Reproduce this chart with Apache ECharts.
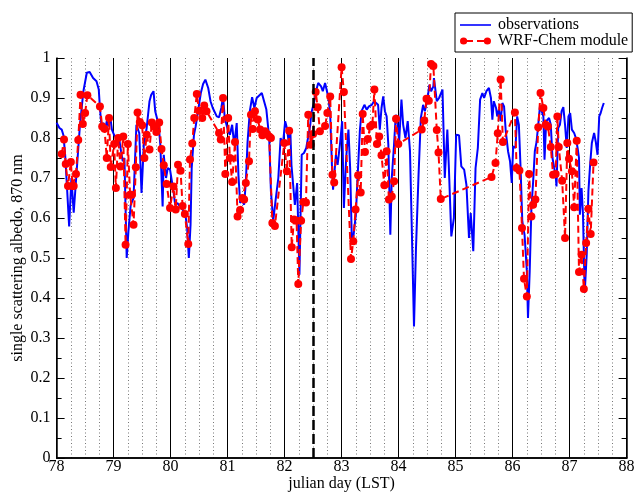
<!DOCTYPE html>
<html>
<head>
<meta charset="utf-8">
<script src="https://cdn.jsdelivr.net/npm/echarts@6/dist/echarts.min.js"></script>
<style>html,body{margin:0;padding:0;background:#fff;}#c{width:635px;height:493px;}</style>
</head>
<body>
<div id="c"></div>
<script>
// ---- data ----
const obsDay = [78.00,78.05,78.09,78.12,78.15,78.18,78.22,78.26,78.30,78.35,78.41,78.47,78.53,78.58,78.64,78.70,78.74,78.76,78.79,78.82,78.85,78.88,78.91,78.94,78.97,79.01,79.05,79.10,79.13,79.16,79.19,79.23,79.26,79.30,79.35,79.40,79.45,79.49,79.53,79.58,79.63,79.66,79.70,79.73,79.75,79.79,79.82,79.86,79.88,79.92,79.95,79.99,80.02,80.05,80.08,80.12,80.16,80.21,80.26,80.29,80.32,80.35,80.37,80.41,80.44,80.49,80.53,80.57,80.61,80.66,80.70,80.74,80.77,80.81,80.85,80.89,80.92,80.95,80.98,81.01,81.04,81.08,81.11,81.13,81.16,81.19,81.22,81.25,81.29,81.32,81.35,81.39,81.43,81.47,81.51,81.60,81.64,81.68,81.73,81.76,81.80,81.84,81.89,81.93,81.97,82.01,82.04,82.07,82.10,82.12,82.15,82.18,82.22,82.26,82.30,82.34,82.38,82.40,82.45,82.47,82.52,82.55,82.59,82.64,82.67,82.71,82.74,82.77,82.80,82.83,82.85,82.90,82.93,82.97,83.01,83.04,83.08,83.12,83.15,83.18,83.21,83.25,83.28,83.32,83.35,83.40,83.44,83.48,83.53,83.57,83.60,83.64,83.67,83.70,83.73,83.76,83.79,83.82,83.855,83.88,83.92,83.95,83.98,84.01,84.05,84.08,84.12,84.16,84.20,84.23,84.27,84.305,84.35,84.39,84.43,84.46,84.505,84.54,84.57,84.61,84.62,84.67,84.71,84.77,84.81,84.855,84.88,84.925,84.97,85.01,85.06,85.10,85.15,85.19,85.235,85.265,85.31,85.35,85.39,85.43,85.47,85.50,85.54,85.585,85.62,85.645,85.67,85.71,85.73,85.76,85.79,85.82,85.85,85.88,85.92,85.955,85.985,86.01,86.05,86.08,86.11,86.14,86.17,86.21,86.25,86.27,86.30,86.33,86.36,86.39,86.42,86.45,86.48,86.51,86.54,86.56,86.59,86.62,86.64,86.67,86.70,86.73,86.755,86.77,86.80,86.83,86.86,86.89,86.92,86.95,86.98,87.01,87.04,87.08,87.11,87.14,87.165,87.18,87.21,87.235,87.265,87.30,87.33,87.36,87.39,87.43,87.46,87.49,87.52,87.545,87.57,87.60];
const obsVal = [0.838,0.825,0.821,0.807,0.758,0.683,0.579,0.70,0.613,0.713,0.833,0.917,0.963,0.965,0.95,0.942,0.921,0.875,0.825,0.838,0.821,0.842,0.829,0.854,0.821,0.807,0.80,0.796,0.767,0.742,0.75,0.50,0.567,0.633,0.65,0.833,0.8125,0.6625,0.783,0.825,0.892,0.908,0.917,0.867,0.8625,0.833,0.783,0.629,0.758,0.70,0.725,0.721,0.725,0.667,0.633,0.6375,0.629,0.621,0.608,0.575,0.50,0.583,0.725,0.808,0.829,0.875,0.9125,0.935,0.946,0.925,0.892,0.875,0.877,0.854,0.852,0.875,0.904,0.85,0.854,0.817,0.808,0.833,0.79,0.80,0.8375,0.708,0.6375,0.646,0.633,0.69,0.79,0.867,0.902,0.875,0.90,0.9125,0.892,0.871,0.80,0.667,0.592,0.642,0.70,0.80,0.783,0.842,0.825,0.792,0.821,0.733,0.683,0.633,0.6875,0.458,0.758,0.7625,0.775,0.78,0.833,0.8625,0.892,0.917,0.9375,0.929,0.917,0.9375,0.942,0.90,0.858,0.733,0.671,0.758,0.733,0.783,0.842,0.625,0.75,0.821,0.725,0.542,0.558,0.608,0.70,0.817,0.867,0.883,0.871,0.879,0.883,0.892,0.896,0.883,0.821,0.875,0.904,0.867,0.854,0.783,0.558,0.70,0.783,0.858,0.8375,0.792,0.896,0.833,0.80,0.842,0.767,0.583,0.329,0.525,0.708,0.85,0.883,0.867,0.896,0.933,0.917,0.929,0.95,0.892,0.90,0.921,0.70,0.821,0.733,0.554,0.60,0.808,0.807,0.729,0.721,0.683,0.55,0.6125,0.517,0.725,0.775,0.896,0.9125,0.90,0.917,0.925,0.90,0.846,0.892,0.875,0.854,0.871,0.842,0.8875,0.879,0.817,0.767,0.742,0.6875,0.779,0.775,0.854,0.833,0.725,0.592,0.558,0.467,0.35,0.467,0.625,0.69,0.767,0.79,0.833,0.879,0.867,0.854,0.746,0.842,0.8375,0.85,0.833,0.75,0.725,0.708,0.679,0.825,0.833,0.867,0.877,0.833,0.775,0.854,0.8625,0.821,0.8125,0.80,0.775,0.75,0.608,0.675,0.608,0.4125,0.508,0.667,0.733,0.7875,0.8125,0.79,0.758,0.854,0.8625,0.875,0.8875];

const wrfDay = [78.09,78.13,78.16,78.20,78.25,78.28,78.30,78.34,78.38,78.42,78.46,78.50,78.54,78.76,78.80,78.84,78.88,78.92,78.95,79.01,79.04,79.08,79.12,79.17,79.21,79.25,79.29,79.32,79.35,79.39,79.42,79.46,79.50,79.54,79.58,79.63,79.67,79.71,79.75,79.80,79.84,79.88,79.93,79.99,80.05,80.09,80.13,80.175,80.21,80.25,80.31,80.34,80.38,80.415,80.46,80.50,80.555,80.59,80.63,80.85,80.88,80.92,80.96,81.01,81.04,81.08,81.13,81.175,81.22,81.26,81.29,81.32,81.375,81.41,81.44,81.48,81.53,81.57,81.61,81.655,81.69,81.73,81.76,81.785,81.83,81.995,82.04,82.08,82.125,82.165,82.21,82.24,82.29,82.33,82.375,82.415,82.46,82.50,82.545,82.58,82.62,82.71,82.75,82.80,82.84,82.87,83.00,83.04,83.165,83.205,83.245,83.29,83.335,83.37,83.41,83.46,83.50,83.54,83.575,83.62,83.66,83.70,83.75,83.79,83.83,83.88,83.92,83.955,83.995,84.405,84.45,84.49,84.53,84.57,84.61,84.67,84.70,84.74,85.63,85.70,85.74,85.79,85.83,86.04,86.07,86.12,86.165,86.20,86.25,86.29,86.33,86.36,86.40,86.45,86.49,86.54,86.58,86.62,86.67,86.71,86.755,86.785,86.81,86.87,86.92,86.96,86.99,87.04,87.08,87.125,87.165,87.21,87.25,87.29,87.33,87.37,87.42];
const wrfVal = [0.76,0.796,0.735,0.68,0.74,0.68,0.68,0.71,0.795,0.908,0.835,0.8625,0.907,0.879,0.829,0.823,0.75,0.85,0.7275,0.785,0.675,0.80,0.729,0.804,0.533,0.785,0.658,0.658,0.583,0.727,0.864,0.84,0.832,0.75,0.808,0.771,0.839,0.829,0.815,0.839,0.7725,0.732,0.685,0.625,0.679,0.621,0.733,0.718,0.63,0.61,0.535,0.746,0.786,0.85,0.91,0.868,0.85,0.881,0.867,0.8125,0.796,0.90,0.71,0.85,0.75,0.69,0.79,0.604,0.62,0.65,0.646,0.6875,0.742,0.858,0.8225,0.867,0.846,0.821,0.807,0.817,0.81,0.804,0.80,0.5875,0.58,0.7875,0.717,0.818,0.527,0.596,0.593,0.435,0.593,0.64,0.639,0.858,0.783,0.81,0.915,0.877,0.817,0.83,0.8625,0.904,0.708,0.689,0.977,0.915,0.4975,0.542,0.621,0.707,0.664,0.86,0.765,0.7975,0.829,0.833,0.921,0.785,0.804,0.757,0.682,0.767,0.646,0.654,0.692,0.848,0.785,0.821,0.844,0.898,0.893,0.985,0.98,0.82,0.764,0.6475,0.7025,0.7375,0.812,0.946,0.79,0.864,0.725,0.719,0.575,0.448,0.404,0.71,0.604,0.633,0.646,0.827,0.9125,0.875,0.833,0.829,0.7775,0.708,0.71,0.854,0.7775,0.693,0.55,0.7875,0.748,0.717,0.627,0.793,0.465,0.508,0.4225,0.5375,0.623,0.56,0.739];

const seriesNames = ['observations', 'WRF-Chem module'];
const markerDay = 82.5;
const xTitle = 'julian day (LST)';
const yTitle = 'single scattering albedo, 870 nm';

// ---- chart ----
const FONT = 'Liberation Serif';
const chart = echarts.init(document.getElementById('c'), null, {renderer: 'canvas'});
const pair = (xs, ys) => xs.map((x, i) => [x, ys[i]]);

chart.setOption({
  animation: false,
  backgroundColor: '#fff',
  grid: {left: 56.6, right: 8.4, top: 58, bottom: 35, containLabel: false, outerBoundsMode: 'none'},
  legend: {
    orient: 'vertical',
    left: 455, top: 13,
    padding: [4, 4, 3, 5],
    borderColor: '#000', borderWidth: 1,
    itemGap: 0,
    itemWidth: 31, itemHeight: 8,
    textStyle: {fontFamily: FONT, fontSize: 16, color: '#000', lineHeight: 16, padding: [0, 0, 0, 2]},
    data: [
      {name: seriesNames[0], icon: 'path://M0,3.2 L31,3.2 L31,4.8 L0,4.8 Z'},
      {name: seriesNames[1], icon: 'path://M0,4 A3.6,3.6 0 1,1 7.2,4 A3.6,3.6 0 1,1 0,4 Z M7,3.1 L13,3.1 L13,4.9 L7,4.9 Z M17,3.1 L24,3.1 L24,4.9 L17,4.9 Z M23.8,4 A3.6,3.6 0 1,1 31,4 A3.6,3.6 0 1,1 23.8,4 Z'}
    ]
  },
  xAxis: [{
    type: 'value', min: 78, max: 88, interval: 1,
    position: 'bottom',
    name: xTitle, nameLocation: 'middle', nameGap: 18, nameMoveOverlap: false,
    nameTextStyle: {fontFamily: FONT, fontSize: 16, color: '#000', verticalAlign: 'top', lineHeight: 16},
    axisLine: {show: true, lineStyle: {color: '#000', width: 1.5}},
    axisTick: {show: false},
    axisLabel: {fontFamily: FONT, fontSize: 16, color: '#000', margin: 1},
    splitLine: {show: true, lineStyle: {color: '#000', width: 1, type: 'solid'}},
    minorTick: {show: false, splitNumber: 4},
    minorSplitLine: {show: true, lineStyle: {color: '#777', width: 1, type: [1, 2.5]}}
  }, {
    type: 'value', min: 78, max: 88, interval: 1, position: 'top',
    axisLine: {show: true, lineStyle: {color: '#000', width: 1.5}},
    axisTick: {show: false}, axisLabel: {show: false}, splitLine: {show: false}
  }],
  yAxis: [{
    type: 'value', min: 0, max: 1, interval: 0.1,
    position: 'left',
    name: yTitle, nameLocation: 'middle', nameGap: 31, nameMoveOverlap: false,
    nameTextStyle: {fontFamily: FONT, fontSize: 16, color: '#000'},
    axisLine: {show: true, lineStyle: {color: '#000', width: 1.5}},
    axisTick: {show: true, inside: true, length: 8, lineStyle: {color: '#000', width: 1}},
    minorTick: {show: true, splitNumber: 2, length: 5, lineStyle: {color: '#000', width: 1}},
    axisLabel: {fontFamily: FONT, fontSize: 16, color: '#000', margin: 6},
    splitLine: {show: false}
  }, {
    type: 'value', min: 0, max: 1, interval: 0.1, position: 'right',
    axisLine: {show: true, lineStyle: {color: '#000', width: 1.5}},
    axisTick: {show: true, inside: true, length: 8, lineStyle: {color: '#000', width: 1}},
    minorTick: {show: true, splitNumber: 2, length: 5, lineStyle: {color: '#000', width: 1}},
    axisLabel: {show: false}, splitLine: {show: false}
  }],
  series: [{
    name: seriesNames[0], type: 'line',
    xAxisIndex: 0, yAxisIndex: 0,
    data: pair(obsDay, obsVal),
    showSymbol: false, symbol: 'none',
    color: '#0000ff',
    lineStyle: {color: '#0000ff', width: 2},
    z: 3,
    markLine: {
      silent: true, symbol: 'none', label: {show: false},
      lineStyle: {color: '#000', width: 2.5, type: [10, 4]},
      data: [{xAxis: markerDay}],
      z: 5
    }
  }, {
    name: seriesNames[1], type: 'line',
    xAxisIndex: 0, yAxisIndex: 0,
    data: pair(wrfDay, wrfVal),
    symbol: 'circle', symbolSize: 8, showSymbol: true,
    color: '#ff0000',
    itemStyle: {color: '#ff0000'},
    lineStyle: {color: '#ff0000', width: 2, type: [7, 4]},
    z: 4
  }]
});
</script>
</body>
</html>
